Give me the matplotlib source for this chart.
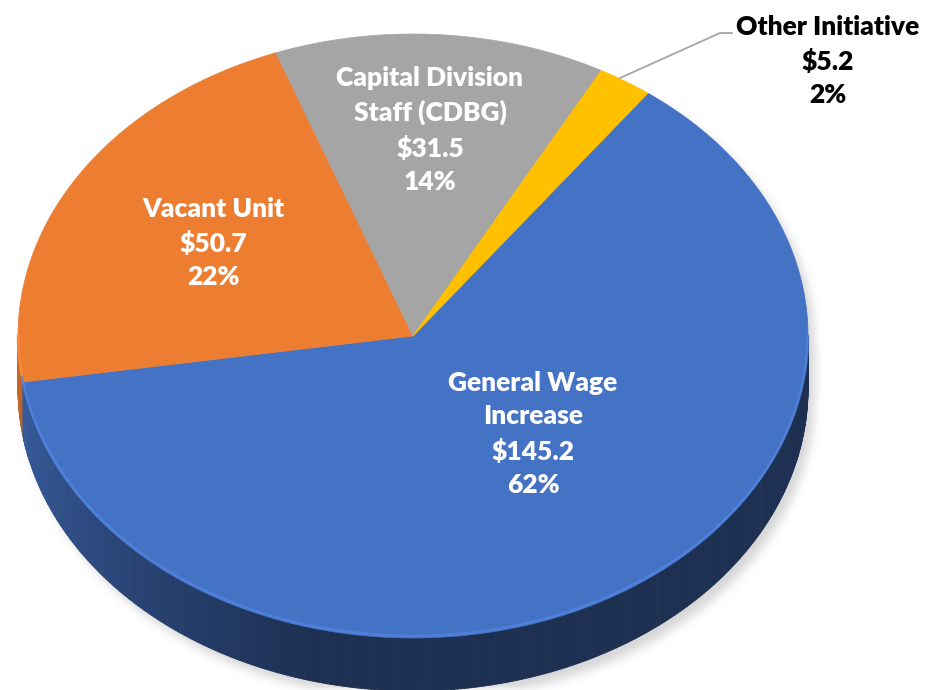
import numpy as np
import matplotlib
matplotlib.use("Agg")
import matplotlib.pyplot as plt
from matplotlib.patches import Polygon
from matplotlib.collections import PolyCollection

# ---- data ----
categories = ["General Wage\nIncrease", "Vacant Unit", "Capital Division\nStaff (CDBG)", "Other Initiative"]
values = [145.2, 50.7, 31.5, 5.2]
colors = ["#4472C4", "#ED7D31", "#A5A5A5", "#FFC000"]
label_colors = ["white", "white", "white", "black"]

# ---- geometry (pixel coordinates) ----
W, H = 926, 690
cx, cy, a, b = 413, 336, 395, 302
depth = 53
start = 53.5

total = sum(values)
fracs = [v / total for v in values]
bounds = [start]
for f in fracs:
    bounds.append(bounds[-1] - f * 360)

fig = plt.figure(figsize=(W / 100, H / 100), dpi=100)
ax = fig.add_axes([0, 0, 1, 1])
ax.set_xlim(0, W)
ax.set_ylim(H, 0)
ax.axis("off")


def pts(t1, t2, dy=0, n=200):
    th = np.radians(np.linspace(t1, t2, n))
    return np.column_stack([cx + a * np.cos(th), cy - b * np.sin(th) + dy])


def hex2rgb(h):
    h = h.lstrip("#")
    return np.array([int(h[i:i + 2], 16) / 255 for i in (0, 2, 4)])


# ---- drop shadow ----
yy, xx = np.mgrid[0:H, 0:W].astype(float)
sdx, sdy = 6, 8
u = (xx - cx - sdx) / a
inside = np.abs(u) <= 1
s = np.sqrt(np.clip(1 - u ** 2, 0, 1))
mask = inside & (yy >= cy + sdy - b * s) & (yy <= cy + sdy + depth + b * s)
m = mask.astype(float)
k = 9
ker = np.ones(k) / k
for _ in range(3):
    m = np.apply_along_axis(lambda r: np.convolve(r, ker, mode="same"), 1, m)
    m = np.apply_along_axis(lambda c: np.convolve(c, ker, mode="same"), 0, m)
img = np.zeros((H, W, 4))
img[..., :3] = 0.55
img[..., 3] = m * 0.35
ax.imshow(img, extent=(0, W, H, 0), zorder=0, interpolation="bilinear")
ax.set_xlim(0, W)
ax.set_ylim(H, 0)


def slice_index(theta):
    t = (start - theta) % 360
    acc = 0
    for i, f in enumerate(fracs):
        acc += f * 360
        if t < acc:
            return i
    return len(fracs) - 1


# ---- side walls ----
polys, fcs = [], []
step = 0.5
for th in np.arange(180, 360, step):
    i = slice_index(th + step / 2)
    p1 = pts(th, th + step, n=2)
    p2 = p1 + np.array([0, depth])
    polys.append(np.vstack([p1, p2[::-1]]))
    if th < 255:
        fshade = 0.85 - (th - 180) / 75 * 0.43
    else:
        fshade = 0.42
    c = np.clip(hex2rgb(colors[i]) * fshade, 0, 1)
    fcs.append(c)
pc = PolyCollection(polys, facecolors=fcs, edgecolors=fcs, linewidths=0.6, zorder=2)
ax.add_collection(pc)

# ---- top face ----
for i in range(len(values)):
    t1, t2 = bounds[i + 1], bounds[i]
    arc = pts(t1, t2, n=max(int(abs(t2 - t1) * 2), 4))
    poly = np.vstack([[cx, cy], arc])
    ax.add_patch(Polygon(poly, closed=True, facecolor=colors[i], edgecolor=colors[i],
                         linewidth=0.5, zorder=3))

# subtle rim highlight along the front edge
for th in np.arange(180, 360, 2.0):
    i = slice_index(th + 1)
    p = pts(th, th + 2, dy=-2, n=3)
    c = np.clip(hex2rgb(colors[i]) * 1.15 + 0.03, 0, 1)
    ax.plot(p[:, 0], p[:, 1], color=c, lw=2, alpha=0.6, solid_capstyle="butt", zorder=4)

# ---- labels ----
label_pos = [(533, 434), (213, 243), (430, 130), (828, 61)]
font = dict(family=["Lato", "DejaVu Sans"], fontweight="heavy", fontsize=19)
for i, (name, v) in enumerate(zip(categories, values)):
    pct = v / total * 100
    txt = f"{name}\n${v:.1f}\n{pct:.0f}%"
    x, y = label_pos[i]
    ax.text(x, y, txt, ha="center", va="center", color=label_colors[i],
            linespacing=1.48, zorder=6, **font)

# leader line for the small slice
ax.plot([620, 720, 732], [78, 33, 33], color="#A6A6A6", lw=1.3, zorder=5)

fig.savefig("out.png", dpi=100)
